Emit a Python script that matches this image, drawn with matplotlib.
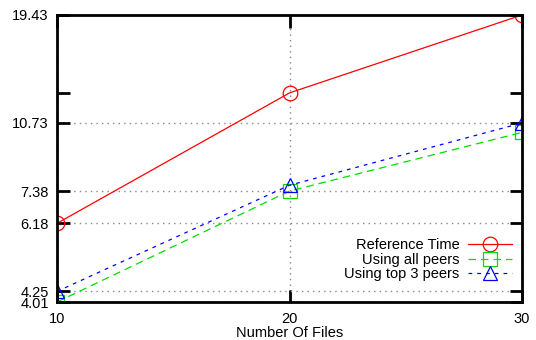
import numpy as np
import matplotlib
matplotlib.use("Agg")
import matplotlib.pyplot as plt
from matplotlib.ticker import FixedLocator, NullLocator, NullFormatter

plt.rcParams['font.family'] = ['Liberation Sans', 'DejaVu Sans']
plt.rcParams['font.size'] = 10.5

# --- data ---
files = [10, 20, 30]
reference_time = [6.18, 12.66, 19.43]
all_peers = [4.01, 7.38, 10.19]
top3_peers = [4.25, 7.62, 10.73]

ytick_vals = [4.01, 4.25, 6.18, 7.38, 10.73, 19.43]
ytick_labels = ["4.01", "4.25", "6.18", "7.38", "10.73", "19.43"]
extra_tick = [12.66]  # unlabelled tick in the original

fig = plt.figure(figsize=(5.36, 3.4), dpi=100)
ax = fig.add_axes([57/536, 1 - 302/340, (522 - 57)/536, (302 - 15)/340])

ax.set_yscale('log')
ax.plot(files, reference_time, color='#ff0000', lw=0.9, marker='o', ms=10.5,
        mfc='none', mec='#ff0000', mew=0.9, label='Reference Time')
ax.plot(files, all_peers, color='#00dd00', lw=0.9, ls=(0, (6, 4)), marker='s', ms=10,
        mfc='none', mec='#00dd00', mew=0.9, label='Using all peers')
ax.plot(files, top3_peers, color='#0000ff', lw=0.9, ls=(0, (3, 4)), marker='^', ms=10,
        mfc='none', mec='#0000ff', mew=0.9, label='Using top 3 peers')

ax.set_xlim(10, 30)
ax.set_ylim(4.01, 19.43)
ax.set_xticks(files)
ax.yaxis.set_major_locator(FixedLocator(ytick_vals))
ax.set_yticklabels(ytick_labels)
ax.yaxis.set_minor_locator(FixedLocator(extra_tick))
ax.yaxis.set_minor_formatter(NullFormatter())
ax.xaxis.set_minor_locator(NullLocator())

ax.tick_params(which='both', direction='in', top=True, right=True, width=2,
               length=9, pad=6)
ax.tick_params(axis='x', pad=7.5)
ax.grid(True, which='major', color='#888888', ls=(0, (1, 3)), lw=1)

for s in ax.spines.values():
    s.set_linewidth(2)

ax.set_xlabel('Number Of Files', labelpad=0)

leg = ax.legend(loc='lower right', bbox_to_anchor=(1.0, 0.036), frameon=False,
                markerfirst=False, handlelength=3.0, labelspacing=0.05,
                borderaxespad=0.3, handletextpad=0.6)
for t in leg.get_texts():
    t.set_ha('right')

fig.savefig('out.png', dpi=100)
